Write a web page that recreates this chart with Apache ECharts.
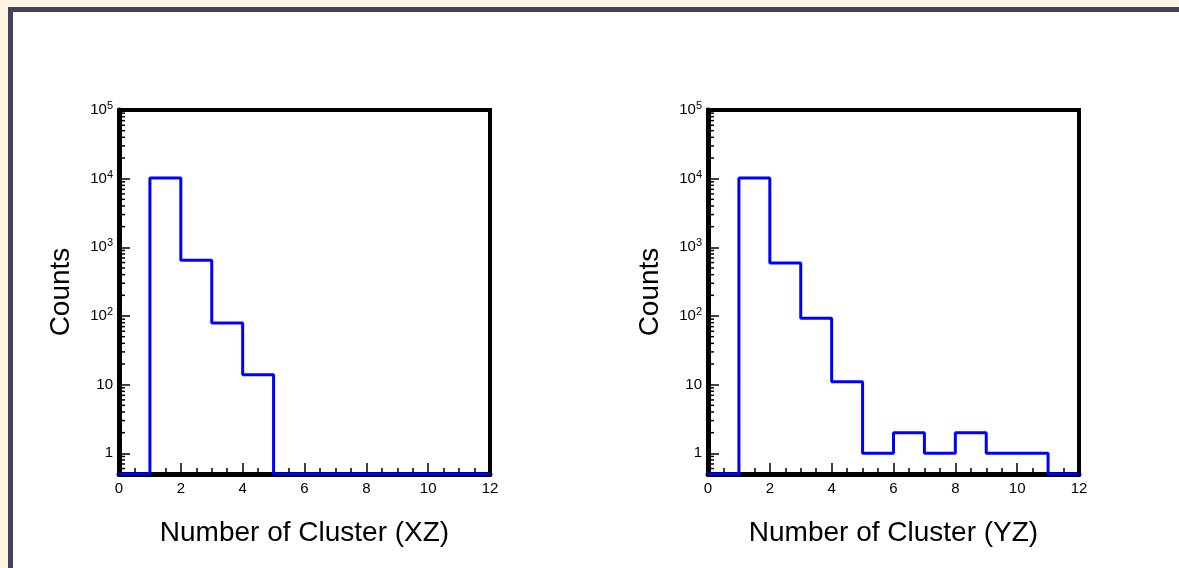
<!DOCTYPE html>
<html>
<head>
<meta charset="utf-8">
<style>
  html, body { margin: 0; padding: 0; background: #fdf3e2; }
  #chart { width: 1179px; height: 568px; }
</style>
<script src="https://cdn.jsdelivr.net/npm/echarts@6/dist/echarts.min.js"></script>
</head>
<body>
<div id="chart"></div>
<script>
// ---- data ----
var binEdges = [0, 1, 2, 3, 4, 5, 6, 7, 8, 9, 10, 11, 12];
var xzCounts = [0, 10200, 650, 79, 14, 0, 0, 0, 0, 0, 0, 0];
var yzCounts = [0, 10200, 590, 93, 11, 1, 2, 1, 2, 1, 1, 0];
var xTickLabels = ['0', '2', '4', '6', '8', '10', '12'];
var yMajorTicks = [1, 10, 100, 1000, 10000, 100000];
var xTitles = ['Number of Cluster (XZ)', 'Number of Cluster (YZ)'];
var yTitle = 'Counts';

var Y_MIN = 0.5, Y_MAX = 100000;
var FONT = '"Liberation Sans", Arial, Helvetica, sans-serif';

// minor tick positions on a log axis (2..9 x 10^k)
var yMinorTicks = [];
for (var k = -1; k <= 4; k++) {
  for (var m = 2; m <= 9; m++) {
    var v = m * Math.pow(10, k);
    if (v > Y_MIN && v < Y_MAX) yMinorTicks.push(v);
  }
}

function stepData(counts) {
  var d = [];
  for (var i = 0; i < counts.length; i++) {
    d.push([binEdges[i], counts[i] > 0 ? counts[i] : Y_MIN]);
  }
  d.push([binEdges[counts.length], counts[counts.length - 1] > 0 ? counts[counts.length - 1] : Y_MIN]);
  return d;
}

function yLabel(v) {
  var e = Math.round(Math.log(v) / Math.LN10);
  var p = Math.pow(10, e);
  if (Math.abs(v - p) / p > 1e-6) return '';
  if (e === 0) return '{b|1}';
  if (e === 1) return '{b|10}';
  return '{b|10}{s|' + e + '}';
}

var grids = [
  { left: 119, top: 110, width: 371, height: 364 },
  { left: 708, top: 110, width: 371, height: 364 }
];

var option = {
  backgroundColor: '#fdf3e2',
  animation: false,
  graphic: [{
    type: 'rect',
    silent: true,
    z: -10,
    shape: { x: 10.5, y: 9.5, width: 1300, height: 700 },
    style: { fill: '#ffffff', stroke: '#40435a', lineWidth: 5 }
  }],
  grid: grids.map(function (g) {
    return {
      left: g.left, top: g.top, width: g.width, height: g.height,
      show: true, borderColor: '#000', borderWidth: 4, backgroundColor: 'transparent',
      containLabel: false
    };
  }),
  xAxis: [0, 1].map(function (i) {
    return {
      type: 'value', gridIndex: i, min: 0, max: 12, interval: 2,
      name: xTitles[i], nameLocation: 'middle', nameGap: 45,
      nameTextStyle: { fontFamily: FONT, fontSize: 28, color: '#000' },
      axisLine: { show: true, onZero: false, lineStyle: { color: '#000', width: 5 } },
      axisTick: { show: true, inside: true, length: 11, lineStyle: { color: '#000', width: 1.5 } },
      minorTick: { show: true, splitNumber: 4, length: 6, lineStyle: { color: '#000', width: 1.5 } },
      splitLine: { show: false },
      axisLabel: {
        fontFamily: FONT, fontSize: 15, color: '#000', margin: 7,
        formatter: function (v) { return xTickLabels[Math.round(v / 2)]; }
      }
    };
  }),
  yAxis: [0, 1].map(function (i) {
    return {
      type: 'log', logBase: 10, gridIndex: i, min: Y_MIN, max: Y_MAX,
      name: yTitle, nameLocation: 'middle', nameGap: 44, nameRotate: 90,
      nameTextStyle: { fontFamily: FONT, fontSize: 28, color: '#000' },
      axisLine: { show: true, lineStyle: { color: '#000', width: 5 } },
      axisTick: {
        show: true, inside: true, length: 11, lineStyle: { color: '#000', width: 1.5 },
        customValues: yMajorTicks
      },
      splitLine: { show: false },
      minorTick: { show: false },
      axisLabel: {
        margin: 6,
        customValues: yMajorTicks,
        formatter: yLabel,
        rich: {
          b: { fontFamily: FONT, fontSize: 15, color: '#000', lineHeight: 19 },
          s: { fontFamily: FONT, fontSize: 11, color: '#000', lineHeight: 19, verticalAlign: 'top', padding: [0, 0, 7, 0] }
        }
      }
    };
  }),
  series: []
};

[xzCounts, yzCounts].forEach(function (counts, i) {
  option.series.push({
    type: 'line', xAxisIndex: i, yAxisIndex: i,
    data: stepData(counts), step: 'end', symbol: 'none', z: 5,
    lineStyle: { color: '#0000ff', width: 3 }, clip: false
  });
  option.series.push({
    type: 'custom', xAxisIndex: i, yAxisIndex: i, z: 4, silent: true,
    data: yMinorTicks.map(function (v) { return [0, v]; }),
    renderItem: function (params, api) {
      var p = api.coord([api.value(0), api.value(1)]);
      return {
        type: 'line',
        shape: { x1: p[0], y1: p[1], x2: p[0] + 6, y2: p[1] },
        style: { stroke: '#000', lineWidth: 1.5 }
      };
    }
  });
});

var chart = echarts.init(document.getElementById('chart'), null, { renderer: 'canvas' });
chart.setOption(option);
</script>
</body>
</html>
